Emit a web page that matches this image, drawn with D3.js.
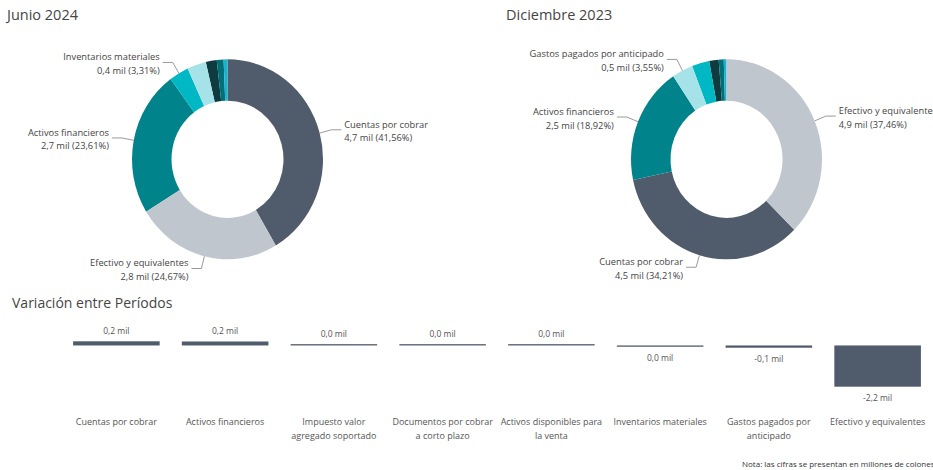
<!DOCTYPE html>
<html><head><meta charset="utf-8">
<script src="https://cdn.jsdelivr.net/npm/d3@7"></script>
<style>
body{margin:0;background:#fff;overflow:hidden}
svg text{font-family:"Open Sans","Noto Sans",sans-serif}
</style></head><body>
<svg id="c" width="933" height="470"></svg>
<script>
const categories = ["Cuentas por cobrar","Activos financieros","Impuesto valor agregado soportado","Documentos por cobrar a corto plazo","Activos disponibles para la venta","Inventarios materiales","Gastos pagados por anticipado","Efectivo y equivalentes"];
const barLabels = [["Cuentas por cobrar"],["Activos financieros"],["Impuesto valor","agregado soportado"],["Documentos por cobrar","a corto plazo"],["Activos disponibles para","la venta"],["Inventarios materiales"],["Gastos pagados por","anticipado"],["Efectivo y equivalentes"]];
const junioPct = [41.56, 23.61, 1.85, 1.15, 0.65, 3.31, 3.20, 24.67];
const junioMil = [4.7, 2.7, 0.21, 0.13, 0.07, 0.4, 0.36, 2.8];
const dicPct = [34.21, 18.92, 1.60, 0.85, 0.46, 2.95, 3.55, 37.46];
const dicMil = [4.5, 2.5, 0.21, 0.11, 0.06, 0.39, 0.5, 4.9];
const variacion = [0.22, 0.21, 0.02, 0.03, 0.04, -0.02, -0.12, -2.18];
const colors = ["#505C6B","#00838A","#0D3B40","#006F78","#18B4CF","#00B8C4","#A6E3E8","#C0C6CE"];
const junioLabeled = ["Cuentas por cobrar","Efectivo y equivalentes","Activos financieros","Inventarios materiales"];
const dicLabeled = ["Efectivo y equivalentes","Cuentas por cobrar","Activos financieros","Gastos pagados por anticipado"];
const titles = ["Junio 2024","Diciembre 2023","Variación entre Períodos"];
const nota = "Nota: las cifras se presentan en millones de colones";

const svg = d3.select("#c");
const color = d3.scaleOrdinal().domain(categories).range(colors);
const dec = (v, n) => v.toFixed(n).replace(".", ",");

// titles
svg.append("text").attr("x", 7).attr("y", 20).attr("font-size", 14.5).attr("fill", "#454545").text(titles[0]);
svg.append("text").attr("x", 506).attr("y", 20).attr("font-size", 14.5).attr("fill", "#454545").text(titles[1]);
svg.append("text").attr("x", 12).attr("y", 308).attr("font-size", 14).attr("fill", "#454545").text(titles[2]);

function donut(cx, cy, pcts, mils, labeled) {
  const rx = 95.5, ri = 56, sy = 1.047;
  const data = categories.map((c, i) => ({cat: c, pct: pcts[i], mil: mils[i]}));
  const arcs = d3.pie().value(d => d.pct)(data);
  const arc = d3.arc().innerRadius(ri).outerRadius(rx);
  const g = svg.append("g").attr("transform", `translate(${cx},${cy}) scale(1,${sy})`);
  g.selectAll("path").data(arcs).join("path")
    .attr("d", arc).attr("fill", d => color(d.data.cat));
  const lg = svg.append("g");
  arcs.filter(a => labeled.includes(a.data.cat)).forEach(a => {
    const m = (a.startAngle + a.endAngle) / 2;
    const s = Math.sin(m), c = Math.cos(m);
    const p0 = [cx + rx * s, cy - rx * c * sy];
    const p1 = [cx + (rx + 12) * s, cy - (rx + 12) * c * sy];
    const dir = s >= 0 ? 1 : -1;
    const p2 = [p1[0] + dir * 10, p1[1]];
    lg.append("path").attr("d", d3.line()([p0, p1, p2]))
      .attr("fill", "none").attr("stroke", "#9a9a9a").attr("stroke-width", 1);
    const t = lg.append("text").attr("x", p2[0] + dir * 3)
      .attr("text-anchor", dir > 0 ? "start" : "end")
      .attr("font-size", 9.3).attr("fill", "#444");
    t.append("tspan").attr("x", p2[0] + dir * 3).attr("y", p1[1] - 5.5).attr("dominant-baseline", "central").text(a.data.cat);
    t.append("tspan").attr("x", p2[0] + dir * 3).attr("y", p1[1] + 8).attr("dominant-baseline", "central")
      .text(`${dec(a.data.mil, 1)} mil (${dec(a.data.pct, 2)}%)`);
  });
}
donut(227.5, 159.3, junioPct, junioMil, junioLabeled);
donut(726.5, 159.3, dicPct, dicMil, dicLabeled);

// bars
const x = d3.scaleBand().domain(categories).range([62, 932]).paddingInner(0.204).paddingOuter(0.102);
const ext = d3.extent(variacion);
const y = d3.scaleLinear().domain(ext).range([386.7, 341.3]);
const bars = categories.map((c, i) => ({cat: c, v: variacion[i], lab: barLabels[i]}));
const bg = svg.append("g");
bars.forEach(d => {
  const y0 = y(0), y1 = y(d.v);
  const h = Math.max(Math.abs(y1 - y0), 1.3);
  const top = d.v >= 0 ? y0 - h : y0;
  bg.append("rect").attr("x", x(d.cat)).attr("width", x.bandwidth())
    .attr("y", top).attr("height", h).attr("fill", color("Cuentas por cobrar"));
  const lbl = (Math.abs(d.v) < 0.05 ? "0,0" : dec(d.v, 1)) + " mil";
  bg.append("text").attr("x", x(d.cat) + x.bandwidth() / 2)
    .attr("y", d.v >= 0 ? top - 10.5 : top + h + 10.5)
    .attr("dominant-baseline", "central").attr("text-anchor", "middle")
    .attr("font-size", 8.5).attr("fill", "#555").text(lbl);
  const t = bg.append("text").attr("text-anchor", "middle").attr("font-size", 9).attr("fill", "#555");
  d.lab.forEach((l, j) => t.append("tspan").attr("x", x(d.cat) + x.bandwidth() / 2)
    .attr("y", 421.7 + j * 14).attr("dominant-baseline", "central").text(l));
});

svg.append("text").attr("x", 742).attr("y", 463.3).attr("dominant-baseline", "central")
  .attr("font-size", 8).attr("fill", "#333").text(nota);
</script>
</body></html>
